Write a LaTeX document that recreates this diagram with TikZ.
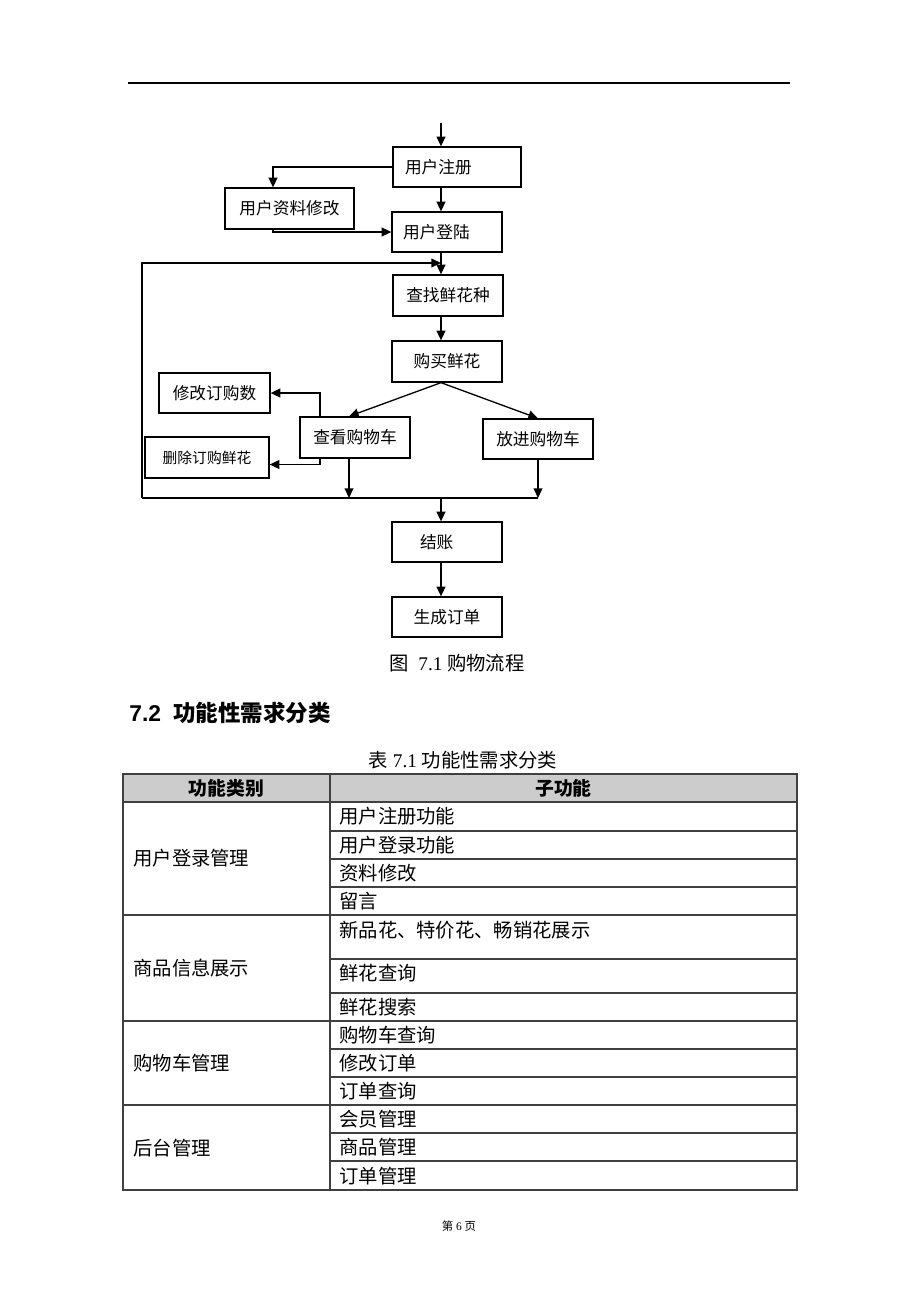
\documentclass[tikz,border=0pt]{standalone}
\usepackage{fontspec}
\setmainfont{Liberation Serif}
\newfontfamily\cjk{Noto Sans CJK SC}
\newfontfamily\arial{Liberation Sans}
\usepackage{xcolor}
\usetikzlibrary{arrows,arrows.meta,positioning}

\begin{document}
\begin{tikzpicture}[x=0.02cm, y=-0.02cm, >={Triangle[length=5.5pt,width=5pt]},
    box/.style={draw, line width=0.75pt, minimum width=2.2cm, minimum height=0.8cm, inner sep=0pt, font=\cjk\fontsize{9.5}{11}\selectfont},
    flow/.style={->, line width=0.75pt},
    cell/.style={anchor=west, inner sep=0pt, font=\cjk\fontsize{11}{13}\selectfont},
    head/.style={inner sep=0pt, font=\cjk\bfseries\fontsize{10.7}{12}\selectfont},
    grid/.style={line width=0.6pt, black!75}]

    \useasboundingbox (0,0) rectangle (920,1302);
    \draw[line width=0.6pt] (128,83) -- (790,83);

    % shopping flow
    \node[box, minimum width=2.56cm, text width=2.08cm, align=left] (reg) at (457,167) {用户注册};
    \node[box, minimum width=2.58cm, minimum height=0.82cm] (infoedit) at (289.5,208.5) {用户资料修改};
    \node[box, text width=1.76cm, align=left] (login) at (447,232) {用户登陆};
    \node[box, minimum height=0.82cm] (search) at (448,295.5) {查找鲜花种};
    \node[box, minimum height=0.82cm] (buy) at (447,361.5) {购买鲜花};
    \node[box, minimum width=2.22cm] (editnum) at (214.5,393) {修改订购数};
    \node[box, minimum height=0.82cm] (view) at (355,437.5) {查看购物车};
    \node[box] (put) at (538,439) {放进购物车};
    \node[box, minimum width=2.48cm, minimum height=0.82cm, font=\cjk\fontsize{8.4}{10}\selectfont] (delete) at (207,457.5) {删除订购鲜花};
    \node[box, text width=1.08cm, align=left] (checkout) at (447,542) {结账};
    \node[box] (order) at (447,617) {生成订单};

    \coordinate (start) at (441,123);
    \coordinate (spine) at (441,0);
    \coordinate (editx) at (273,0);
    \coordinate (cartx) at (320,0);
    \coordinate (viewx) at (349,0);
    \coordinate (putx) at (538,0);
    \coordinate (loopx) at (142,0);
    \coordinate (loopy) at (0,263);
    \coordinate (joiny) at (0,498);

    \draw[flow] (start) -- (reg.north -| spine);
    \draw[flow] (reg.west) -| (infoedit.north -| editx);
    \draw[flow] (reg.south -| spine) -- (login.north -| spine);
    \draw[flow] (infoedit.south -| editx) |- (login.west);
    \draw[flow] (login.south -| spine) -- (search.north -| spine);
    \draw[flow] (search.south -| spine) -- (buy.north -| spine);
    \draw[flow] (buy.south -| spine) -- (view.north -| viewx);
    \draw[flow] (buy.south -| spine) -- (put.north);
    \draw[flow] (view.north -| cartx) |- (editnum.east);
    \draw[flow] (view.south -| cartx) |- ([yshift=-0.14cm]delete.east);
    \draw[flow] (view.south -| viewx) -- (viewx |- joiny);
    \draw[flow] (put.south -| putx) -- (putx |- joiny);
    \draw[line width=0.75pt] (loopx |- joiny) -- (putx |- joiny);
    \draw[flow] (loopx |- joiny) |- (spine |- loopy);
    \draw[flow] (spine |- joiny) -- (checkout.north -| spine);
    \draw[flow] (checkout.south -| spine) -- (order.north -| spine);

    \node[font=\fontsize{11}{13}\selectfont] (figcap) at (457,663) {{\cjk 图}~~7.1 {\cjk 购物流程}};

    % section and table
    \node[anchor=west, inner sep=0pt] (sect) at (129,713) {{\arial\bfseries\fontsize{13}{15}\selectfont 7.2}\hspace{0.24cm}{\cjk\bfseries\fontsize{12.8}{15}\selectfont 功能性需求分类}};
    \node[font=\fontsize{11}{13}\selectfont] (tabcap) at (463,760) {{\cjk 表} 7.1 {\cjk 功能性需求分类}};

    \fill[black!20] (123,774) rectangle (797,802);
    \draw[grid] (123,774) rectangle (797,1190);
    \draw[grid] (330,774) -- (330,1190);
    \foreach \y in {802,915,1021,1105} \draw[grid] (123,\y) -- (797,\y);
    \foreach \y in {831,859,887,959,993,1049,1077,1133,1161} \draw[grid] (330,\y) -- (797,\y);

    \node[head] (hcat) at (226.5,788) {功能类别};
    \node[head] (hsub) at (563.5,788) {子功能};
    \foreach \y/\txt in {858/用户登录管理, 968/商品信息展示, 1063/购物车管理, 1148/后台管理}
        \node[cell] (grp\y) at (133,\y) {\txt};
    \foreach \y/\txt in {816/用户注册功能, 845/用户登录功能, 873/资料修改, 901/留言, 930/新品花、特价花、畅销花展示, 973/鲜花查询, 1007/鲜花搜索, 1035/购物车查询, 1063/修改订单, 1091/订单查询, 1119/会员管理, 1147/商品管理, 1176/订单管理}
        \node[cell] (sub\y) at (339,\y) {\txt};

    \node[font=\fontsize{6.5}{8}\selectfont] (pageno) at (459,1226) {{\cjk 第} 6 {\cjk 页}};

\end{tikzpicture}
\end{document}
